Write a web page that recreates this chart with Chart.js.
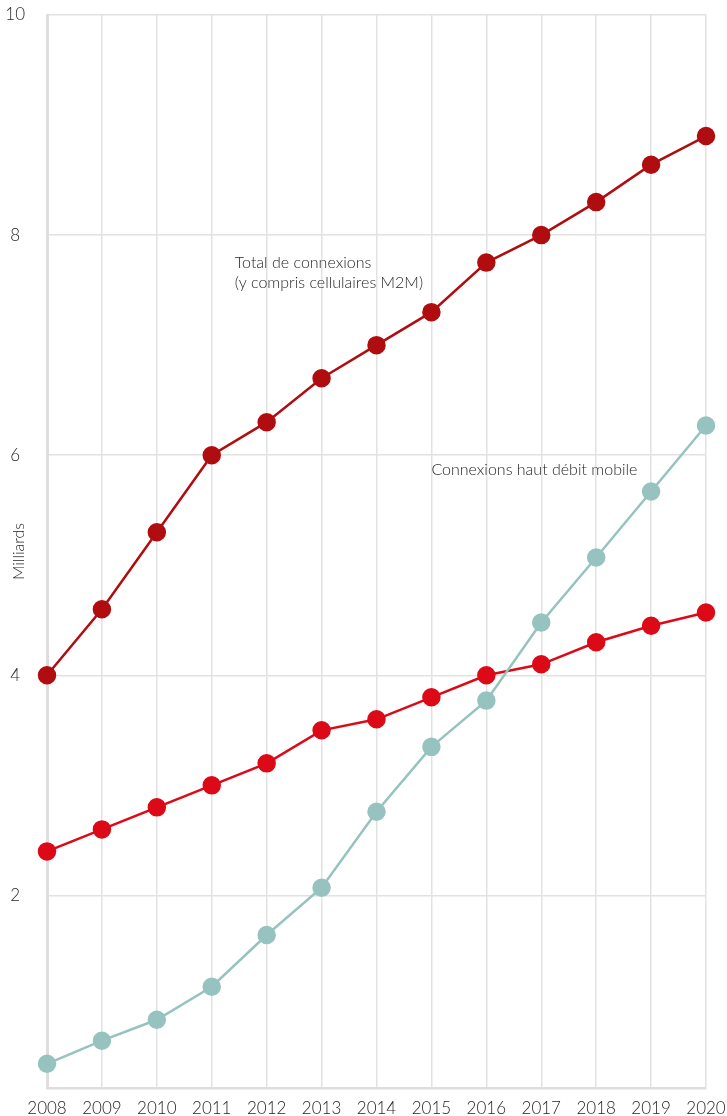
<!DOCTYPE html>
<html>
<head>
<meta charset="utf-8">
<script src="https://cdn.jsdelivr.net/npm/chart.js@4/dist/chart.umd.min.js"></script>
<style>
  html, body { margin: 0; padding: 0; background: #fff; }
  #wrap { width: 727px; height: 1116px; }
</style>
</head>
<body>
<div id="wrap"><canvas id="mainChart" width="727" height="1116"></canvas></div>
<script>
const years = ['2008', '2009', '2010', '2011', '2012', '2013', '2014', '2015', '2016', '2017', '2018', '2019', '2020'];
const totalConnexions = [4.0, 4.6, 5.3, 6.0, 6.3, 6.7, 7.0, 7.3, 7.75, 8.0, 8.3, 8.64, 8.9];
const abonnesUniques = [2.4, 2.6, 2.8, 3.0, 3.2, 3.5, 3.6, 3.8, 4.0, 4.1, 4.3, 4.45, 4.57];
const hautDebit = [0.47, 0.68, 0.87, 1.17, 1.64, 2.07, 2.76, 3.35, 3.77, 4.48, 5.07, 5.67, 6.27];
const yTicks = [2, 4, 6, 8, 10];
const yTitle = 'Milliards';

// text labels: [lines, x index, y value]
const notes = [
  [['Total de connexions', '(y compris cellulaires M2M)'], 3.42, 7.75],
  [['Connexions haut débit mobile'], 7, 5.87]
];

const FONT = 'Lato, "Open Sans", sans-serif';
const TXT = '#262626';

const notesPlugin = {
  id: 'notes',
  afterDraw(chart) {
    const { ctx, scales: { x, y }, chartArea } = chart;
    ctx.save();
    ctx.fillStyle = TXT;
    ctx.font = '300 16px ' + FONT;
    ctx.textBaseline = 'middle';
    ctx.textAlign = 'left';
    notes.forEach(([lines, xi, yv]) => {
      const px = x.getPixelForValue(xi);
      const py = y.getPixelForValue(yv);
      lines.forEach((l, i) => ctx.fillText(l, px, py + i * 20));
    });
    // y axis title
    ctx.translate(19, (chartArea.top + chartArea.bottom) / 2);
    ctx.rotate(-Math.PI / 2);
    ctx.textAlign = 'center';
    ctx.font = '300 16px ' + FONT;
    ctx.fillText(yTitle, 0, 0);
    ctx.restore();
  }
};

function ds(data, color) {
  return {
    data,
    borderColor: color,
    backgroundColor: color,
    pointBackgroundColor: color,
    pointBorderColor: color,
    pointRadius: 8,
    pointHoverRadius: 8,
    borderWidth: 2.5,
    tension: 0
  };
}

new Chart(document.getElementById('mainChart').getContext('2d'), {
  type: 'line',
  data: {
    labels: years,
    datasets: [
      ds(hautDebit, '#96c3bf'),
      ds(abonnesUniques, '#dc0a17'),
      ds(totalConnexions, '#b00d10')
    ]
  },
  options: {
    responsive: false,
    animation: false,
    layout: { padding: 0 },
    plugins: { legend: { display: false }, tooltip: { enabled: false } },
    scales: {
      x: {
        offset: false,
        grid: { color: '#e2e2e2', lineWidth: 1.5, drawTicks: false },
        border: { color: '#dedede', width: 2.5 },
        ticks: { color: TXT, font: { family: FONT, size: 17, weight: 300 }, padding: 10, maxRotation: 0, autoSkip: false },
        afterFit(s) { s.height = 28; s.paddingLeft = 0; s.paddingRight = 21; }
      },
      y: {
        min: 0.25,
        max: 10,
        afterBuildTicks(s) { s.ticks = yTicks.map(v => ({ value: v })); },
        grid: { color: '#e2e2e2', lineWidth: 1.5, drawTicks: false },
        border: { color: '#dedede', width: 3 },
        ticks: { color: TXT, font: { family: FONT, size: 17, weight: 300 }, padding: 22, crossAlign: 'center' },
        afterFit(s) { s.width = 47; s.paddingTop = 15; s.paddingBottom = 0; }
      }
    }
  },
  plugins: [notesPlugin]
});
</script>
</body>
</html>
